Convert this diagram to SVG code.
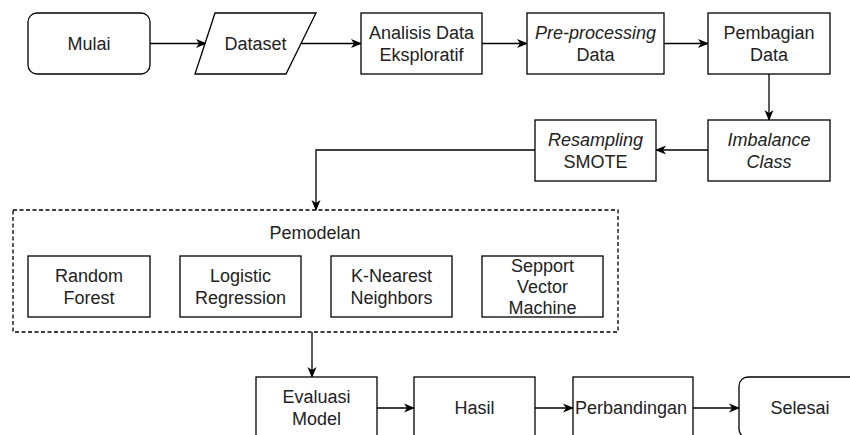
<svg xmlns="http://www.w3.org/2000/svg" width="850" height="435" viewBox="0 0 850 435">
  <defs>
    <marker id="arrow" viewBox="0 0 11 10" refX="10" refY="5" markerWidth="11" markerHeight="10" markerUnits="userSpaceOnUse" orient="auto">
      <path d="M0,0.5 L11,5 L0,9.5 L3,5 Z" fill="#000"/>
    </marker>
  </defs>
  <style>
    .box { fill: #fff; stroke: #000; stroke-width: 1.3; }
    .group { fill: none; stroke: #000; stroke-width: 1.3; stroke-dasharray: 4 2.5; }
    .lbl { font-family: "Liberation Sans", Arial, sans-serif; font-size: 18px; fill: #222; text-anchor: middle; }
    .it { font-style: italic; }
    .edge { fill: none; stroke: #000; stroke-width: 1.3; marker-end: url(#arrow); }
  </style>
  <rect width="850" height="435" fill="#fff"/>

  <g id="connectors">
    <path class="edge" d="M150,43.5 H206"/>
    <path class="edge" d="M301,43.5 H361"/>
    <path class="edge" d="M482,43.5 H527"/>
    <path class="edge" d="M664,43.5 H708"/>
    <path class="edge" d="M769,74 V120"/>
    <path class="edge" d="M708,150 H656"/>
    <path class="edge" d="M535,150 H316 V210"/>
    <path class="edge" d="M312,332 V377"/>
    <path class="edge" d="M377,408 H414"/>
    <path class="edge" d="M535,408 H573"/>
    <path class="edge" d="M693,408 H739"/>
  </g>

  <g id="mulai">
    <rect class="box" x="28" y="13" width="122" height="61" rx="9"/>
    <text class="lbl" x="89" y="50">Mulai</text>
  </g>
  <g id="dataset">
    <polygon class="box" points="215,13 316,13 286,74 195,74"/>
    <text class="lbl" x="255.5" y="50">Dataset</text>
  </g>
  <g id="analisis">
    <rect class="box" x="361" y="13" width="121" height="61"/>
    <text class="lbl" x="421.5" y="38.5">Analisis Data</text>
    <text class="lbl" x="421.5" y="60.5">Eksploratif</text>
  </g>
  <g id="preprocessing">
    <rect class="box" x="527" y="13" width="137" height="61"/>
    <text class="lbl it" x="595.5" y="38.5">Pre-processing</text>
    <text class="lbl" x="595.5" y="60.5">Data</text>
  </g>
  <g id="pembagian">
    <rect class="box" x="708" y="13" width="122" height="61"/>
    <text class="lbl" x="769" y="38.5">Pembagian</text>
    <text class="lbl" x="769" y="60.5">Data</text>
  </g>
  <g id="imbalance">
    <rect class="box" x="708" y="120" width="122" height="61"/>
    <text class="lbl it" x="769" y="145.5">Imbalance</text>
    <text class="lbl it" x="769" y="167.5">Class</text>
  </g>
  <g id="resampling">
    <rect class="box" x="535" y="120" width="121" height="61"/>
    <text class="lbl it" x="595.5" y="145.5">Resampling</text>
    <text class="lbl" x="595.5" y="167.5">SMOTE</text>
  </g>

  <g id="pemodelan">
    <rect class="group" x="13" y="210" width="605" height="122"/>
    <text class="lbl" x="315" y="239">Pemodelan</text>
  </g>
  <g id="random-forest">
    <rect class="box" x="28" y="256" width="122" height="61"/>
    <text class="lbl" x="89" y="281.5">Random</text>
    <text class="lbl" x="89" y="303.5">Forest</text>
  </g>
  <g id="logistic-regression">
    <rect class="box" x="180" y="256" width="121" height="61"/>
    <text class="lbl" x="240.5" y="281.5">Logistic</text>
    <text class="lbl" x="240.5" y="303.5">Regression</text>
  </g>
  <g id="knn">
    <rect class="box" x="331" y="256" width="121" height="61"/>
    <text class="lbl" x="391.5" y="281.5">K-Nearest</text>
    <text class="lbl" x="391.5" y="303.5">Neighbors</text>
  </g>
  <g id="svm">
    <rect class="box" x="482" y="256" width="121" height="61"/>
    <text class="lbl" x="542.5" y="271.5">Sepport</text>
    <text class="lbl" x="542.5" y="292.5">Vector</text>
    <text class="lbl" x="542.5" y="314">Machine</text>
  </g>

  <g id="evaluasi">
    <rect class="box" x="256" y="377" width="121" height="61"/>
    <text class="lbl" x="316.5" y="402.5">Evaluasi</text>
    <text class="lbl" x="316.5" y="424.5">Model</text>
  </g>
  <g id="hasil">
    <rect class="box" x="414" y="377" width="121" height="61"/>
    <text class="lbl" x="474.5" y="414">Hasil</text>
  </g>
  <g id="perbandingan">
    <rect class="box" x="573" y="377" width="120" height="61"/>
    <text class="lbl" x="631" y="414">Perbandingan</text>
  </g>
  <g id="selesai">
    <rect class="box" x="739" y="377" width="122" height="61" rx="9"/>
    <text class="lbl" x="800" y="414">Selesai</text>
  </g>
</svg>
